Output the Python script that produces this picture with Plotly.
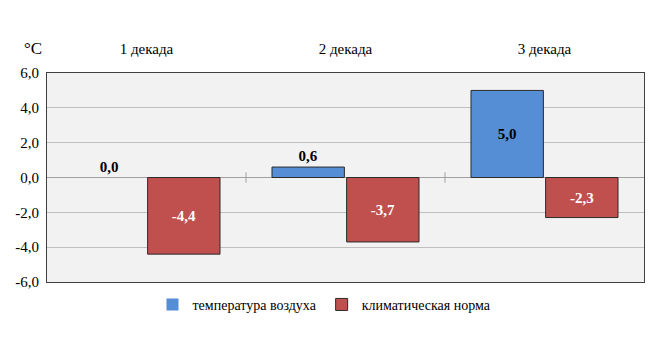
import plotly.graph_objects as go

categories = ["1 декада", "2 декада", "3 декада"]
temp_air = [0.0, 0.6, 5.0]
clim_norm = [-4.4, -3.7, -2.3]
temp_label_pos = ["outside", "outside", "inside"]
y_ticks = [-6, -4, -2, 0, 2, 4, 6]
y_tick_text = ["-6,0", "-4,0", "-2,0", "0,0", "2,0", "4,0", "6,0"]

FONT = "Liberation Serif"

def fmt(v):
    return f"{v:.1f}".replace(".", ",")

fig = go.Figure()
fig.add_trace(go.Bar(
    x=categories, y=temp_air, name="температура воздуха",
    marker=dict(color="#558ED5",
                line=dict(color="#2B2B2B", width=[0 if v == 0 else 1 for v in temp_air])),
    text=[fmt(v) for v in temp_air], textposition=temp_label_pos,
    insidetextanchor="middle", cliponaxis=False,
    textfont=dict(family=FONT, size=15, color="black", weight="bold"),
))
fig.add_trace(go.Bar(
    x=categories, y=clim_norm, name="климатическая норма",
    marker=dict(color="#C0504D", line=dict(color="#2B2B2B", width=1)),
    text=[fmt(v) for v in clim_norm], textposition="inside",
    insidetextanchor="middle",
    textfont=dict(family=FONT, size=15, color="white", weight="bold"),
))

shapes = []
for i in range(len(categories) - 1):
    shapes.append(dict(type="line", xref="x", yref="y", x0=i + 0.5, x1=i + 0.5,
                       y0=-0.3, y1=0.3, line=dict(color="#A0A0A0", width=1)))

fig.update_layout(
    width=649, height=348,
    margin=dict(l=47, r=5, t=73, b=66, autoexpand=False),
    paper_bgcolor="white", plot_bgcolor="#F2F2F2",
    font=dict(family=FONT, size=14, color="black"),
    barmode="group", bargap=0.25, bargroupgap=0.03,
    showlegend=True,
    legend=dict(orientation="h", xref="container", x=0.50, xanchor="center",
                yref="container", y=0.124, yanchor="middle",
                font=dict(family=FONT, size=14, color="black"),
                itemwidth=30, tracegroupgap=0),
    shapes=shapes,
    annotations=[dict(text="°C", xref="paper", yref="paper", x=-0.042, y=1.172,
                      showarrow=False, font=dict(family=FONT, size=17, color="black"))],
    xaxis=dict(side="top", showgrid=False, ticks="", ticklabelstandoff=12,
               showline=True, linecolor="#404040", linewidth=1, mirror=True,
               tickfont=dict(family=FONT, size=15, color="black")),
    yaxis=dict(range=[-6, 6], tickvals=y_ticks, ticktext=y_tick_text,
               showgrid=True, gridcolor="#BFBFBF", gridwidth=1,
               zeroline=True, zerolinecolor="#A0A0A0", zerolinewidth=1,
               showline=True, linecolor="#404040", linewidth=1, mirror=True,
               ticks="", ticklabelstandoff=4,
               tickfont=dict(family=FONT, size=15, color="black")),
)

fig.write_html("out.html")
